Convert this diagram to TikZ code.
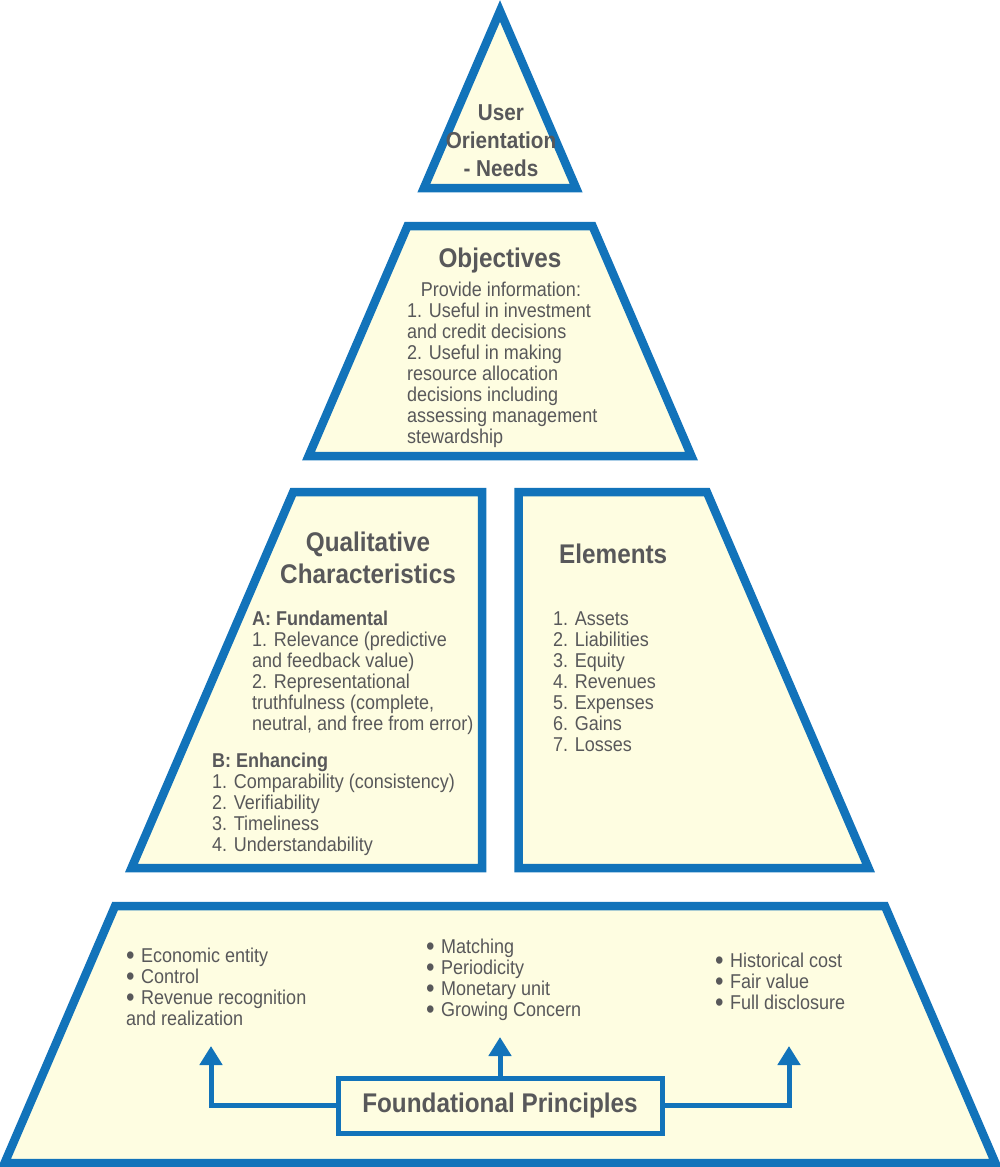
\documentclass[tikz,border=0pt]{standalone}
\usepackage{fontspec}
\setmainfont{Liberation Sans}[FakeStretch=0.9]
\usetikzlibrary{arrows.meta}
\definecolor{pblue}{HTML}{1273BA}
\definecolor{pfill}{HTML}{FEFDE1}
\definecolor{ptext}{HTML}{58585A}
\newcommand\mybul{\makebox[15pt][l]{\smash{\raisebox{-2.4pt}{\fontsize{27}{21}\selectfont •}}}}
\begin{document}
\begin{tikzpicture}[x=1pt,y=-1pt,
  tier/.style={draw=pblue,fill=pfill,line width=8.5pt,line join=miter},
  txt/.style={text=ptext,inner sep=0pt,font=\fontsize{20}{21}\selectfont},
  ttl/.style={text=ptext,inner sep=0pt,font=\bfseries\fontsize{27}{32}\selectfont},
  fpbox/.style={draw=pblue,fill=pfill,line width=5pt,text=ptext,inner sep=0pt,
    minimum width=324pt,minimum height=55pt,font=\bfseries\fontsize{27}{32}\selectfont},
  arr/.style={draw=pblue,line width=5pt,-{Triangle[length=19pt,width=22pt]}}]
\useasboundingbox (0,0) rectangle (1000,1167);
% tiers
\draw[tier] (500,11) -- (576.1,188) -- (423.9,188) -- cycle;
\draw[tier] (407.5,226) -- (592.5,226) -- (691.4,456) -- (308.6,456) -- cycle;
\draw[tier] (293.2,492) -- (482,492) -- (482,868) -- (131.5,868) -- cycle;
\draw[tier] (518.5,492) -- (706.8,492) -- (868.5,868) -- (518.5,868) -- cycle;
\draw[tier] (115.1,906) -- (884.9,906) -- (995.4,1163) -- (4.6,1163) -- cycle;
% top (base anchor = baseline of last line)
\node[text=ptext,inner sep=0pt,font=\bfseries\fontsize{23}{28}\selectfont,align=center,anchor=base]
  (user) at (501,176) {User\\Orientation\\- Needs};
% objectives
\node[ttl,anchor=base] (objt) at (500,267) {Objectives};
\node[txt,anchor=base] (objp) at (501,296) {Provide information:};
\node[txt,anchor=base west,align=left] (objl) at (407,443)
  {1. Useful in investment\\and credit decisions\\2. Useful in making\\resource allocation\\decisions including\\assessing management\\stewardship};
% qualitative
\node[ttl,anchor=base,align=center] (qt) at (368,583) {Qualitative\\Characteristics};
\node[txt,anchor=base west,align=left] (qa) at (252,730)
  {\textbf{A: Fundamental}\\1. Relevance (predictive\\and feedback value)\\2. Representational\\truthfulness (complete,\\neutral, and free from error)};
\node[txt,anchor=base west,align=left] (qb) at (212,851)
  {\textbf{B: Enhancing}\\1. Comparability (consistency)\\2. Verifiability\\3. Timeliness\\4. Understandability};
% elements
\node[ttl,anchor=base west] (et) at (559,563) {Elements};
\node[txt,anchor=base west,align=left] (el) at (553,751)
  {1. Assets\\2. Liabilities\\3. Equity\\4. Revenues\\5. Expenses\\6. Gains\\7. Losses};
% foundational
\node[txt,anchor=base west,align=left] (fl) at (126,1025)
  {\mybul Economic entity\\\mybul Control\\\mybul Revenue recognition\\and realization};
\node[txt,anchor=base west,align=left] (fm) at (426,1016)
  {\mybul Matching\\\mybul Periodicity\\\mybul Monetary unit\\\mybul Growing Concern};
\node[txt,anchor=base west,align=left] (fr) at (715,1009)
  {\mybul Historical cost\\\mybul Fair value\\\mybul Full disclosure};
\node[fpbox] (fp) at (500,1105.5) {Foundational Principles};
\coordinate (tipL) at (211,1046);
\coordinate (tipM) at (500,1037);
\coordinate (tipR) at (789,1046);
\draw[arr] (fp.west) -| (tipL);
\draw[arr] (fp.north) -- (tipM);
\draw[arr] (fp.east) -| (tipR);
\end{tikzpicture}
\end{document}
